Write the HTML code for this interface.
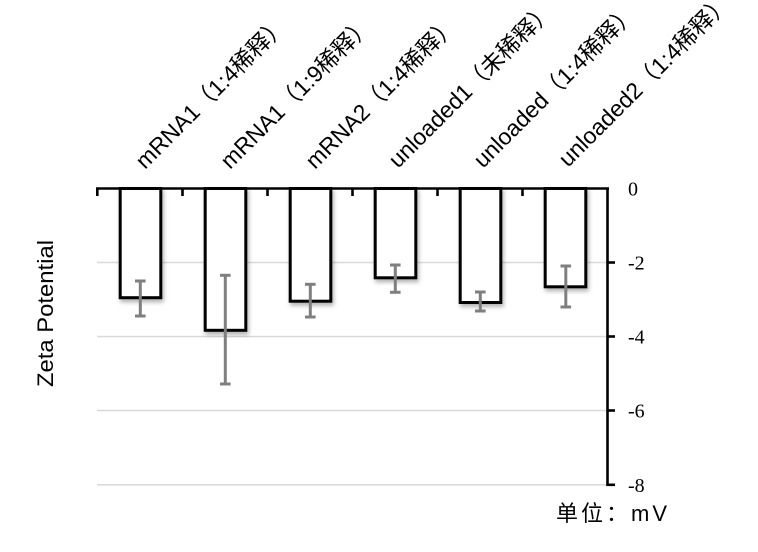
<!DOCTYPE html>
<html>
<head>
<meta charset="utf-8">
<style>
html,body{margin:0;padding:0;background:#fff;}
svg{display:block;}
</style>
</head>
<body>
<svg width="758" height="552" viewBox="0 0 758 552" xmlns="http://www.w3.org/2000/svg">
<defs>
<filter id="sh" x="-20%" y="-20%" width="140%" height="140%">
<feDropShadow dx="1.5" dy="3" stdDeviation="2" flood-color="#000" flood-opacity="0.3"/>
</filter>
</defs>
<rect width="758" height="552" fill="#fff"/>

<!-- gridlines -->
<g stroke="#d9d9d9" stroke-width="1.6">
<line x1="97" y1="262.5" x2="607" y2="262.5"/>
<line x1="97" y1="336.5" x2="607" y2="336.5"/>
<line x1="97" y1="410.5" x2="607" y2="410.5"/>
<line x1="97" y1="484.8" x2="607" y2="484.8"/>
</g>

<!-- bars -->
<g fill="#fff" stroke="#000" stroke-width="3" filter="url(#sh)">
<rect x="120.2" y="188.5" width="40.6" height="109.2"/>
<rect x="205.2" y="188.5" width="40.6" height="141.8"/>
<rect x="290.2" y="188.5" width="40.6" height="112.7"/>
<rect x="375.2" y="188.5" width="40.6" height="89.3"/>
<rect x="460.2" y="188.5" width="40.6" height="114"/>
<rect x="545.2" y="188.5" width="40.6" height="98.3"/>
</g>

<!-- error bars -->
<g stroke="#7f7f7f" stroke-width="3" fill="none">
<line x1="140.3" y1="281" x2="140.3" y2="316"/><line x1="135" y1="281" x2="145.6" y2="281"/><line x1="135" y1="316" x2="145.6" y2="316"/>
<line x1="225.3" y1="275.3" x2="225.3" y2="384"/><line x1="220" y1="275.3" x2="230.6" y2="275.3"/><line x1="220" y1="384" x2="230.6" y2="384"/>
<line x1="310.3" y1="284.3" x2="310.3" y2="317"/><line x1="305" y1="284.3" x2="315.6" y2="284.3"/><line x1="305" y1="317" x2="315.6" y2="317"/>
<line x1="395.3" y1="265" x2="395.3" y2="292.3"/><line x1="390" y1="265" x2="400.6" y2="265"/><line x1="390" y1="292.3" x2="400.6" y2="292.3"/>
<line x1="480.3" y1="292" x2="480.3" y2="311"/><line x1="475" y1="292" x2="485.6" y2="292"/><line x1="475" y1="311" x2="485.6" y2="311"/>
<line x1="565.8" y1="266" x2="565.8" y2="307"/><line x1="560.5" y1="266" x2="571.1" y2="266"/><line x1="560.5" y1="307" x2="571.1" y2="307"/>
</g>

<!-- axes -->
<g stroke="#000" stroke-width="2.6" fill="none">
<line x1="96" y1="188.5" x2="609" y2="188.5"/>
<line x1="607.5" y1="187.5" x2="607.5" y2="486"/>
<line x1="97.3" y1="188" x2="97.3" y2="196"/>
<line x1="182.5" y1="188" x2="182.5" y2="196"/>
<line x1="267.5" y1="188" x2="267.5" y2="196"/>
<line x1="352.5" y1="188" x2="352.5" y2="196"/>
<line x1="437.5" y1="188" x2="437.5" y2="196"/>
<line x1="522.5" y1="188" x2="522.5" y2="196"/>
<line x1="607" y1="262.5" x2="615" y2="262.5"/>
<line x1="607" y1="336.5" x2="615" y2="336.5"/>
<line x1="607" y1="410.5" x2="615" y2="410.5"/>
<line x1="606.5" y1="484.8" x2="615" y2="484.8"/>
</g>

<!-- y tick labels -->
<g font-family="'Liberation Serif', serif" font-size="20" fill="#000">
<text x="628" y="195.5">0</text>
<text x="628" y="269.5">-2</text>
<text x="628" y="343.5">-4</text>
<text x="628" y="417.5">-6</text>
<text x="628" y="491.8">-8</text>
</g>

<!-- category labels -->
<g font-family="'Liberation Sans', 'Noto Sans CJK SC', sans-serif" font-size="23" fill="#000">
<text x="145" y="170" transform="rotate(-45 145 170)" textLength="203" lengthAdjust="spacingAndGlyphs">mRNA1（1:4稀释）</text>
<text x="230" y="170" transform="rotate(-45 230 170)" textLength="203" lengthAdjust="spacingAndGlyphs">mRNA1（1:9稀释）</text>
<text x="315" y="170" transform="rotate(-45 315 170)" textLength="203" lengthAdjust="spacingAndGlyphs">mRNA2（1:4稀释）</text>
<text x="398" y="169" transform="rotate(-45 398 169)" textLength="222" lengthAdjust="spacingAndGlyphs">unloaded1（未稀释）</text>
<text x="483" y="169" transform="rotate(-45 483 169)" textLength="219" lengthAdjust="spacingAndGlyphs">unloaded（1:4稀释）</text>
<text x="568" y="168" transform="rotate(-45 568 168)" textLength="232" lengthAdjust="spacingAndGlyphs">unloaded2（1:4稀释）</text>
</g>

<!-- y axis title -->
<text transform="translate(53,313.5) rotate(-90)" text-anchor="middle" font-family="'Liberation Sans', sans-serif" font-size="22" textLength="147" lengthAdjust="spacingAndGlyphs" fill="#000">Zeta Potential</text>

<!-- unit -->
<text x="556" y="521" font-family="'Liberation Sans', 'Noto Sans CJK SC', sans-serif" font-size="22" textLength="111" lengthAdjust="spacing" fill="#000">单位：mV</text>
</svg>
</body>
</html>
